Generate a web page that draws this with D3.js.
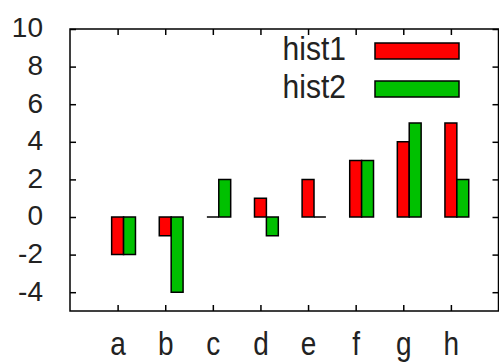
<!DOCTYPE html>
<html>
<head>
<meta charset="utf-8">
<script src="https://cdn.jsdelivr.net/npm/d3@7"></script>
<style>
  body { margin: 0; background: #fff; }
  svg { display: block; font-family: "Liberation Sans", Arial, sans-serif; }
</style>
</head>
<body>
<div id="chart"></div>
<script>
// data
const categories = ["a", "b", "c", "d", "e", "f", "g", "h"];
const hist1 = [-2, -1, 0, 1, 2, 3, 4, 5];
const hist2 = [-2, -4, 2, -1, 0, 3, 5, 2];
const yTicks = [-4, -2, 0, 2, 4, 6, 8, 10];
const seriesNames = ["hist1", "hist2"];
const seriesColors = ["#ff0000", "#00c000"];

const width = 499;
const height = 362;
const margin = { top: 29, right: 0.5, bottom: 51, left: 70 };
const boxWidth = 0.25;

const svg = d3.select("#chart")
  .append("svg")
  .attr("width", width)
  .attr("height", height);

// x scale: category index, gnuplot-like xrange [-1:8]
const x = d3.scaleLinear()
  .domain([-1, 8])
  .range([margin.left, width - margin.right]);

const y = d3.scaleLinear()
  .domain([-5, 10])
  .range([height - margin.bottom, margin.top]);

// bars as paths so zero-height boxes still show their outline
function boxPath(x0, x1, v) {
  const y0 = y(0), y1 = y(v);
  return `M${x0},${y0}H${x1}V${y1}H${x0}Z`;
}

const series = [hist1, hist2];
series.forEach((vals, s) => {
  svg.append("g")
    .selectAll("path")
    .data(vals)
    .enter()
    .append("path")
    .attr("d", (d, i) => {
      const left = x(i - boxWidth / 2 + s * boxWidth);
      const right = x(i + boxWidth / 2 + s * boxWidth);
      return boxPath(left, right, d);
    })
    .attr("fill", seriesColors[s])
    .attr("stroke", "#000")
    .attr("stroke-width", 1.5);
});

// y axis left (with labels, plain hyphen for minus)
const yLeft = svg.append("g")
  .attr("transform", `translate(${margin.left},0)`)
  .call(d3.axisLeft(y).tickValues(yTicks).tickFormat(d => String(d))
    .tickSizeInner(-6).tickSizeOuter(0).tickPadding(27));
yLeft.selectAll("text")
  .attr("font-size", 28)
  .attr("fill", "#222")
  .attr("dy", "0.28em");

// y axis right (ticks only)
svg.append("g")
  .attr("transform", `translate(${width - margin.right},0)`)
  .call(d3.axisRight(y).tickValues(yTicks).tickSizeInner(-6).tickSizeOuter(0).tickFormat(""));

// x axis bottom (with labels, stretched tall like the original)
const stretch = 1.2;
const xBottom = svg.append("g")
  .attr("transform", `translate(0,${height - margin.bottom})`)
  .call(d3.axisBottom(x).tickValues(d3.range(categories.length))
    .tickFormat(i => categories[i]).tickSizeInner(-6).tickSizeOuter(0));
xBottom.selectAll("text")
  .attr("font-size", 28)
  .attr("fill", "#222")
  .attr("y", 44 / stretch)
  .attr("dy", 0)
  .attr("transform", `scale(1,${stretch})`);

// x axis top (ticks only)
svg.append("g")
  .attr("transform", `translate(0,${margin.top})`)
  .call(d3.axisTop(x).tickValues(d3.range(categories.length))
    .tickSizeInner(-6).tickSizeOuter(0).tickFormat(""));

svg.selectAll(".domain").remove();
svg.selectAll(".tick line").attr("stroke", "#000").attr("stroke-width", 1.5);

// frame
svg.append("rect")
  .attr("x", margin.left)
  .attr("y", margin.top)
  .attr("width", width - margin.right - margin.left)
  .attr("height", height - margin.bottom - margin.top)
  .attr("fill", "none")
  .attr("stroke", "#000")
  .attr("stroke-width", 1.5);

// legend
const legend = svg.append("g");
seriesNames.forEach((name, s) => {
  const base = 60 + s * 38;
  legend.append("text")
    .attr("x", 346)
    .attr("y", base / 1.08)
    .attr("transform", "scale(1,1.08)")
    .attr("text-anchor", "end")
    .attr("font-size", 30)
    .attr("fill", "#222")
    .text(name);
  legend.append("rect")
    .attr("x", 375)
    .attr("y", base - 17)
    .attr("width", 84)
    .attr("height", 16)
    .attr("fill", seriesColors[s])
    .attr("stroke", "#000")
    .attr("stroke-width", 1.5);
});
</script>
</body>
</html>
